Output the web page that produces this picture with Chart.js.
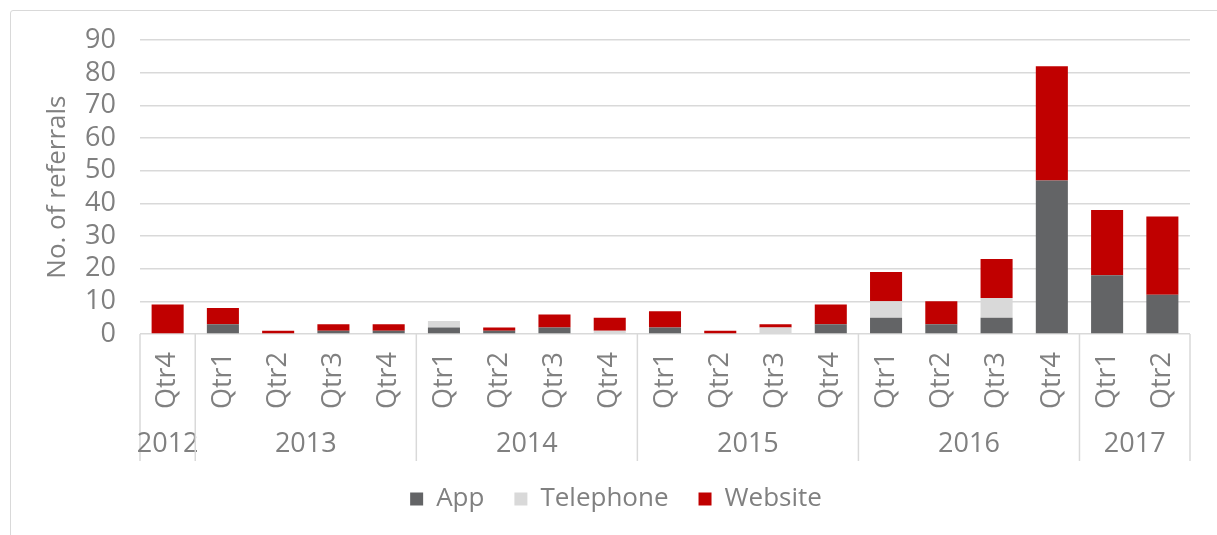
<!DOCTYPE html>
<html>
<head>
<meta charset="utf-8">
<title>Referrals by quarter</title>
<script src="https://cdn.jsdelivr.net/npm/chart.js@4"></script>
<style>
  body { margin: 0; overflow: hidden; background: #fff; }
  #frame {
    position: absolute; left: 10px; top: 10px;
    width: 1240px; height: 560px;
    border: 1px solid #d9d9d9; border-radius: 3px;
  }
  #chart { position: absolute; left: 0; top: 0; }
</style>
</head>
<body>
<div id="frame"></div>
<canvas id="chart" width="1217" height="522"></canvas>
<script>
// quarters in order, grouped by year below
const quarters = ['Qtr4',
  'Qtr1', 'Qtr2', 'Qtr3', 'Qtr4',
  'Qtr1', 'Qtr2', 'Qtr3', 'Qtr4',
  'Qtr1', 'Qtr2', 'Qtr3', 'Qtr4',
  'Qtr1', 'Qtr2', 'Qtr3', 'Qtr4',
  'Qtr1', 'Qtr2'];
const years = ['2012', '2013', '2014', '2015', '2016', '2017'];
const yearSpans = [1, 4, 4, 4, 4, 2];

const app       = [0, 3, 0, 1, 1, 2, 1, 2, 0, 2, 0, 0, 3, 5, 3, 5, 47, 18, 12];
const telephone = [0, 0, 0, 0, 0, 2, 0, 0, 1, 0, 0, 2, 0, 5, 0, 6, 0, 0, 0];
const website   = [9, 5, 1, 2, 2, 0, 1, 4, 4, 5, 1, 1, 6, 9, 7, 12, 35, 20, 24];

const yTicks = { min: 0, max: 90, step: 10 };

const grey = '#808080';
Chart.defaults.font.family = '"Open Sans", sans-serif';
Chart.defaults.font.size = 27;
Chart.defaults.color = grey;

// second row of the category axis: year names and the separators between them
const yearRows = {
  id: 'yearRows',
  afterDraw(chart) {
    const x = chart.scales.x;
    const ctx = chart.ctx;
    const half = (x.getPixelForValue(1) - x.getPixelForValue(0)) / 2;
    const top = chart.chartArea.bottom;
    ctx.save();
    ctx.strokeStyle = '#d9d9d9';
    ctx.lineWidth = 1.5;
    ctx.font = '27px "Open Sans"';
    ctx.fillStyle = grey;
    ctx.textAlign = 'center';
    ctx.textBaseline = 'middle';
    let start = 0;
    years.forEach((yr, i) => {
      const left = x.getPixelForValue(start) - half;
      const right = x.getPixelForValue(start + yearSpans[i] - 1) + half;
      ctx.beginPath();
      ctx.moveTo(left, top);
      ctx.lineTo(left, top + 127);
      if (i === years.length - 1) {
        ctx.moveTo(right, top);
        ctx.lineTo(right, top + 127);
      }
      ctx.stroke();
      ctx.fillText(yr, (left + right) / 2, top + 110);
      start += yearSpans[i];
    });
    ctx.restore();
  }
};

new Chart(document.getElementById('chart'), {
  type: 'bar',
  data: {
    labels: quarters,
    datasets: [
      { label: 'App', data: app, backgroundColor: '#636466' },
      { label: 'Telephone', data: telephone, backgroundColor: '#d9d9d9' },
      { label: 'Website', data: website, backgroundColor: '#c00000' }
    ]
  },
  options: {
    responsive: false,
    animation: false,
    datasets: { bar: { categoryPercentage: 1, barPercentage: 0.58, borderWidth: 0 } },
    layout: { padding: { left: 42, right: 27, top: 20, bottom: 0 } },
    plugins: {
      tooltip: { enabled: false },
      legend: {
        position: 'bottom',
        labels: { boxWidth: 13, boxHeight: 13, padding: 30, color: grey, font: { size: 26 } }
      }
    },
    scales: {
      x: {
        stacked: true,
        grid: { display: false, drawTicks: false },
        border: { display: false },
        ticks: { autoSkip: false, maxRotation: 90, minRotation: 90, padding: 18, color: grey },
        afterFit(scale) { scale.height = 122; }
      },
      y: {
        stacked: true,
        min: yTicks.min,
        max: yTicks.max,
        ticks: { stepSize: yTicks.step, autoSkip: false, padding: 24, color: grey },
        grid: { color: '#d9d9d9', lineWidth: 1.5, drawTicks: false },
        border: { display: false },
        title: { display: true, text: 'No. of referrals', color: grey, font: { size: 26 }, padding: { top: 0, bottom: 0 } },
        afterFit(scale) { scale.width = 98; }
      }
    }
  },
  plugins: [yearRows]
});
</script>
</body>
</html>
